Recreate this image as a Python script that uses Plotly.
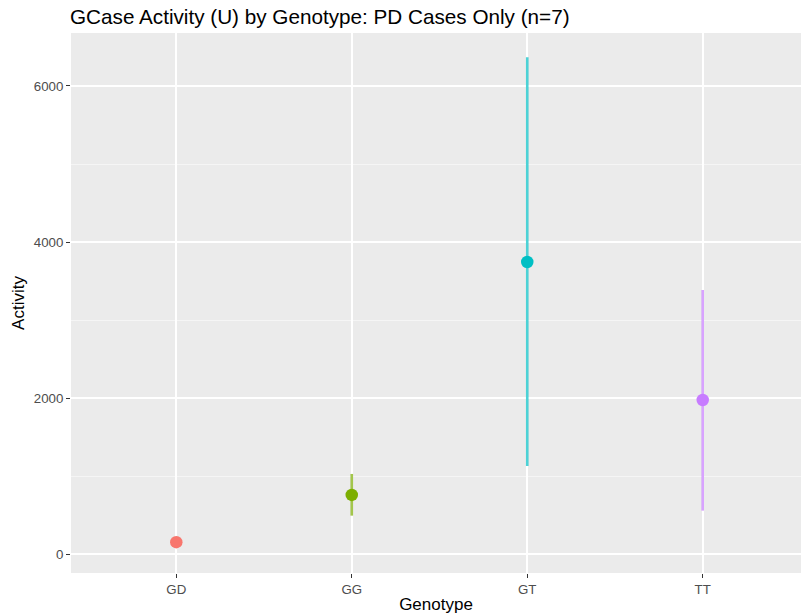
import plotly.graph_objects as go

genotypes = ["GD", "GG", "GT", "TT"]
mean_activity = [155, 760, 3745, 1977]
lower_activity = [155, 495, 1131, 559]
upper_activity = [155, 1029, 6368, 3386]
colors = ["#F8766D", "#7CAE00", "#00BFC4", "#C77CFF"]
bar_colors = ["rgba(248,118,109,0.7)", "rgba(124,174,0,0.7)",
              "rgba(0,191,196,0.7)", "rgba(199,124,255,0.7)"]
y_ticks = [0, 2000, 4000, 6000]

fig = go.Figure()
for g, m, lo, hi, c, bc in zip(genotypes, mean_activity, lower_activity,
                               upper_activity, colors, bar_colors):
    fig.add_trace(go.Scatter(
        x=[g], y=[m], mode="markers",
        marker=dict(color=c, size=12.5, line=dict(width=0)),
        error_y=dict(type="data", symmetric=False, array=[hi - m],
                     arrayminus=[m - lo], width=0, thickness=2.6, color=bc,
                     visible=(hi != lo)),
        showlegend=False, hoverinfo="x+y",
    ))

fig.update_layout(
    width=801, height=615,
    margin=dict(l=71, r=0, t=33, b=42, autoexpand=False),
    paper_bgcolor="white",
    plot_bgcolor="#EBEBEB",
    font=dict(family="Liberation Sans, Arial, sans-serif", color="#000000"),
    title=dict(text="GCase Activity (U) by Genotype: PD Cases Only (n=7)",
               x=70 / 801, xanchor="left", y=1 - 17 / 615, yanchor="middle",
               font=dict(size=20.7, color="#000000")),
    xaxis=dict(
        categoryorder="array", categoryarray=genotypes,
        range=[-0.6, 3.56],
        showgrid=True, gridcolor="white", gridwidth=1.6,
        zeroline=False, showline=False,
        ticks="outside", ticklen=4, tickwidth=1.2, tickcolor="#333333",
        tickfont=dict(size=13.3, color="#4D4D4D"),
        title=dict(text="Genotype", font=dict(size=17, color="#000000"), standoff=2),
        automargin=False,
    ),
    yaxis=dict(
        range=[-240, 6679],
        tickvals=y_ticks, ticktext=[str(v) for v in y_ticks],
        showgrid=True, gridcolor="white", gridwidth=1.6,
        minor=dict(dtick=1000, tick0=0, showgrid=True, gridcolor="#F5F5F5", gridwidth=0.8, ticks=""),
        zeroline=False, showline=False,
        ticks="outside", ticklen=4, tickwidth=1.2, tickcolor="#333333",
        tickfont=dict(size=13.3, color="#4D4D4D"),
        title=dict(text="Activity", font=dict(size=17, color="#000000"), standoff=4),
        automargin=False,
    ),
)

# remove the default 8px page margin so the 801x615 figure fills the window exactly
fig.write_html(
    "out.html",
    config={"displayModeBar": False},
    post_script="document.body.style.margin='0';document.body.style.overflow='hidden';",
)
